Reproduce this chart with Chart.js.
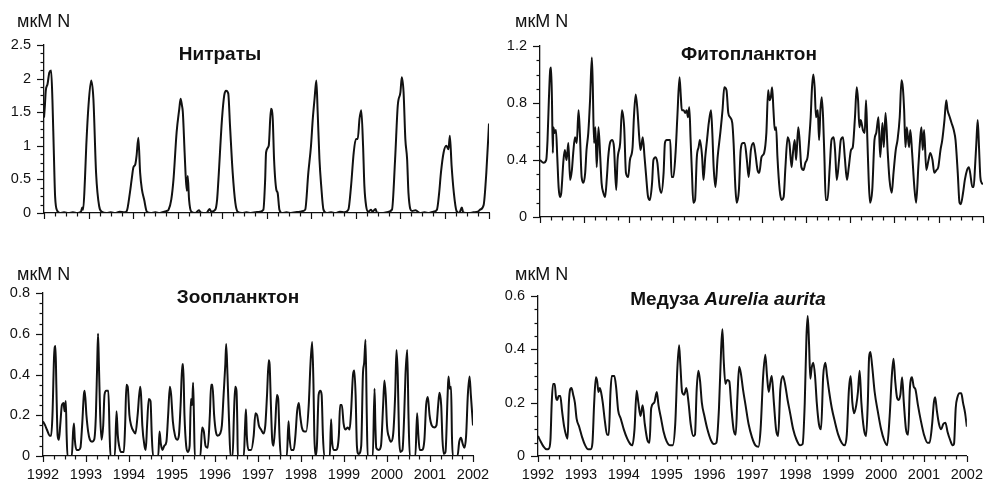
<!DOCTYPE html>
<html><head><meta charset="utf-8">
<script src="https://cdn.jsdelivr.net/npm/chart.js@4.4.0/dist/chart.umd.min.js"></script>
<style>
html,body{margin:0;padding:0;background:#fff;}
#wrap{position:relative;width:987px;height:481px;overflow:hidden;font-family:"Liberation Sans",Arial,sans-serif;color:#111;}
canvas{position:absolute;left:0;top:0;}
.unit{position:absolute;font-size:18px;line-height:18px;white-space:nowrap;}
.ttl{position:absolute;font-size:19px;line-height:19px;font-weight:bold;white-space:nowrap;transform:translateX(-50%);}
</style></head>
<body><div id="wrap">
<canvas id="c1" width="987" height="481"></canvas>
<canvas id="c2" width="987" height="481"></canvas>
<canvas id="c3" width="987" height="481"></canvas>
<canvas id="c4" width="987" height="481"></canvas>
<div class="unit" style="left:17px;top:12px">мкМ N</div>
<div class="unit" style="left:515px;top:12px">мкМ N</div>
<div class="unit" style="left:17px;top:265px">мкМ N</div>
<div class="unit" style="left:515px;top:265px">мкМ N</div>
<div class="ttl" style="left:220px;top:44px">Нитраты</div>
<div class="ttl" style="left:749px;top:44px">Фитопланктон</div>
<div class="ttl" style="left:238px;top:287px">Зоопланктон</div>
<div class="ttl" style="left:728px;top:289px">Медуза <i>Aurelia aurita</i></div>
</div>
<script>
// ---- Data ----
const years = [1992,1993,1994,1995,1996,1997,1998,1999,2000,2001,2002];
const nitrateTicks = [0,0.5,1,1.5,2,2.5];
const phytoTicks = [0,0.4,0.8,1.2];
const zooTicks = [0,0.2,0.4,0.6,0.8];
const aureliaTicks = [0,0.2,0.4,0.6];

const nitrates = [[1992.00,1.42],[1992.02,1.60],[1992.04,1.82],[1992.08,1.92],[1992.12,2.09],[1992.16,2.12],[1992.19,1.67],[1992.22,0.93],[1992.25,0.24],[1992.30,0.03],[1992.36,0.0],[1992.45,0.01],[1992.55,0.0],[1992.65,0.01],[1992.75,0.0],[1992.83,0.02],[1992.86,0.08],[1992.88,0.05],[1992.92,0.5],[1992.95,1.0],[1993.00,1.6],[1993.06,1.97],[1993.11,1.7],[1993.17,0.6],[1993.24,0.1],[1993.30,0.02],[1993.40,0.0],[1993.50,0.01],[1993.60,0.0],[1993.70,0.02],[1993.80,0.01],[1993.86,0.03],[1993.93,0.3],[1993.97,0.5],[1994.01,0.68],[1994.05,0.72],[1994.08,0.85],[1994.12,1.12],[1994.16,0.6],[1994.20,0.35],[1994.25,0.2],[1994.31,0.02],[1994.40,0.0],[1994.50,0.01],[1994.60,0.0],[1994.70,0.02],[1994.76,0.03],[1994.80,0.05],[1994.86,0.2],[1994.91,0.5],[1994.98,1.2],[1995.04,1.55],[1995.07,1.7],[1995.10,1.6],[1995.12,1.5],[1995.16,0.9],[1995.18,0.6],[1995.21,0.33],[1995.23,0.55],[1995.26,0.2],[1995.31,0.02],[1995.40,0.0],[1995.48,0.04],[1995.52,0.01],[1995.65,0.0],[1995.72,0.06],[1995.76,0.02],[1995.85,0.05],[1995.89,0.2],[1995.92,0.5],[1996.00,1.4],[1996.05,1.75],[1996.09,1.82],[1996.14,1.78],[1996.18,1.3],[1996.24,0.6],[1996.30,0.15],[1996.35,0.02],[1996.45,0.0],[1996.55,0.01],[1996.65,0.0],[1996.75,0.01],[1996.85,0.02],[1996.93,0.05],[1996.97,0.5],[1996.99,0.9],[1997.05,1.0],[1997.10,1.55],[1997.14,1.4],[1997.17,0.8],[1997.22,0.35],[1997.25,0.3],[1997.29,0.05],[1997.35,0.0],[1997.45,0.01],[1997.55,0.0],[1997.65,0.01],[1997.75,0.02],[1997.82,0.03],[1997.87,0.05],[1997.94,0.6],[1998.00,1.0],[1998.04,1.4],[1998.08,1.7],[1998.12,1.97],[1998.15,1.5],[1998.19,0.8],[1998.23,0.4],[1998.28,0.05],[1998.35,0.0],[1998.45,0.01],[1998.55,0.0],[1998.65,0.02],[1998.75,0.01],[1998.84,0.05],[1998.90,0.4],[1998.96,0.9],[1999.01,1.1],[1999.05,1.1],[1999.09,1.4],[1999.13,1.53],[1999.17,1.0],[1999.20,0.4],[1999.24,0.1],[1999.29,0.02],[1999.35,0.05],[1999.38,0.02],[1999.45,0.06],[1999.48,0.01],[1999.60,0.0],[1999.70,0.01],[1999.82,0.05],[1999.89,0.8],[1999.95,1.6],[2000.01,1.8],[2000.04,2.02],[2000.08,1.8],[2000.12,1.1],[2000.16,0.8],[2000.19,0.3],[2000.27,0.03],[2000.35,0.04],[2000.45,0.0],[2000.55,0.01],[2000.65,0.0],[2000.75,0.02],[2000.83,0.05],[2000.88,0.3],[2000.92,0.6],[2000.98,0.9],[2001.04,1.0],[2001.09,0.95],[2001.12,1.15],[2001.16,0.7],[2001.21,0.3],[2001.27,0.03],[2001.33,0.0],[2001.39,0.08],[2001.42,0.01],[2001.55,0.0],[2001.65,0.01],[2001.75,0.02],[2001.80,0.05],[2001.88,0.12],[2001.94,0.6],[2002.00,1.33]];

const phytoplankton = [[1992.00,0.40],[1992.08,0.38],[1992.14,0.40],[1992.17,0.54],[1992.20,0.82],[1992.23,1.03],[1992.25,1.05],[1992.27,0.82],[1992.29,0.45],[1992.30,0.63],[1992.33,0.59],[1992.36,0.61],[1992.39,0.42],[1992.42,0.21],[1992.45,0.14],[1992.48,0.17],[1992.53,0.40],[1992.56,0.47],[1992.60,0.40],[1992.64,0.52],[1992.68,0.26],[1992.72,0.33],[1992.75,0.45],[1992.79,0.56],[1992.83,0.52],[1992.87,0.75],[1992.90,0.59],[1992.94,0.28],[1992.98,0.24],[1993.02,0.31],[1993.05,0.47],[1993.09,0.59],[1993.13,0.82],[1993.17,1.12],[1993.19,0.94],[1993.22,0.52],[1993.25,0.63],[1993.28,0.35],[1993.32,0.63],[1993.36,0.42],[1993.39,0.24],[1993.43,0.17],[1993.47,0.14],[1993.51,0.28],[1993.54,0.42],[1993.58,0.52],[1993.63,0.54],[1993.67,0.49],[1993.72,0.19],[1993.75,0.40],[1993.81,0.52],[1993.85,0.75],[1993.90,0.63],[1993.94,0.31],[1993.99,0.28],[1994.03,0.40],[1994.09,0.49],[1994.12,0.70],[1994.16,0.86],[1994.20,0.75],[1994.24,0.56],[1994.27,0.47],[1994.32,0.56],[1994.36,0.42],[1994.39,0.31],[1994.44,0.14],[1994.48,0.12],[1994.53,0.24],[1994.56,0.40],[1994.61,0.42],[1994.65,0.38],[1994.70,0.21],[1994.74,0.17],[1994.79,0.31],[1994.82,0.52],[1994.86,0.54],[1994.90,0.54],[1994.94,0.54],[1994.97,0.28],[1995.01,0.28],[1995.06,0.45],[1995.10,0.70],[1995.15,0.98],[1995.18,0.84],[1995.20,0.75],[1995.24,0.75],[1995.28,0.73],[1995.31,0.75],[1995.34,0.70],[1995.37,0.77],[1995.40,0.54],[1995.43,0.31],[1995.46,0.10],[1995.50,0.12],[1995.54,0.42],[1995.58,0.49],[1995.61,0.54],[1995.66,0.42],[1995.69,0.26],[1995.73,0.42],[1995.77,0.54],[1995.81,0.66],[1995.86,0.75],[1995.89,0.59],[1995.92,0.35],[1995.96,0.21],[1996.01,0.42],[1996.07,0.59],[1996.12,0.75],[1996.16,0.91],[1996.21,0.89],[1996.25,0.73],[1996.29,0.70],[1996.34,0.66],[1996.37,0.52],[1996.41,0.21],[1996.44,0.10],[1996.49,0.19],[1996.53,0.47],[1996.58,0.52],[1996.62,0.52],[1996.67,0.40],[1996.71,0.28],[1996.76,0.47],[1996.82,0.52],[1996.86,0.45],[1996.91,0.33],[1996.95,0.31],[1997.00,0.42],[1997.06,0.45],[1997.11,0.59],[1997.15,0.89],[1997.18,0.82],[1997.21,0.84],[1997.24,0.91],[1997.27,0.75],[1997.30,0.61],[1997.33,0.63],[1997.36,0.42],[1997.41,0.19],[1997.45,0.12],[1997.50,0.14],[1997.54,0.35],[1997.59,0.56],[1997.63,0.52],[1997.68,0.35],[1997.71,0.45],[1997.75,0.54],[1997.78,0.40],[1997.83,0.63],[1997.86,0.54],[1997.90,0.35],[1997.95,0.33],[1997.99,0.38],[1998.04,0.42],[1998.08,0.56],[1998.11,0.70],[1998.14,0.91],[1998.17,1.00],[1998.20,0.91],[1998.23,0.70],[1998.27,0.75],[1998.30,0.54],[1998.33,0.75],[1998.36,0.84],[1998.39,0.70],[1998.42,0.42],[1998.45,0.12],[1998.49,0.12],[1998.54,0.35],[1998.58,0.54],[1998.63,0.56],[1998.66,0.47],[1998.70,0.26],[1998.75,0.40],[1998.79,0.54],[1998.84,0.56],[1998.88,0.42],[1998.93,0.26],[1998.97,0.35],[1999.02,0.47],[1999.06,0.49],[1999.11,0.70],[1999.15,0.91],[1999.18,0.82],[1999.21,0.63],[1999.24,0.68],[1999.29,0.61],[1999.33,0.59],[1999.36,0.82],[1999.39,0.54],[1999.42,0.26],[1999.45,0.10],[1999.50,0.19],[1999.55,0.54],[1999.59,0.59],[1999.64,0.70],[1999.68,0.42],[1999.73,0.66],[1999.76,0.49],[1999.80,0.73],[1999.85,0.45],[1999.89,0.26],[1999.94,0.17],[1999.98,0.31],[2000.03,0.47],[2000.07,0.54],[2000.12,0.70],[2000.16,0.96],[2000.19,0.91],[2000.22,0.75],[2000.25,0.49],[2000.28,0.63],[2000.33,0.49],[2000.36,0.61],[2000.40,0.45],[2000.45,0.21],[2000.49,0.10],[2000.54,0.35],[2000.58,0.54],[2000.61,0.63],[2000.64,0.47],[2000.67,0.61],[2000.72,0.33],[2000.77,0.40],[2000.81,0.45],[2000.86,0.40],[2000.90,0.31],[2000.95,0.33],[2000.99,0.35],[2001.04,0.47],[2001.08,0.54],[2001.13,0.68],[2001.17,0.82],[2001.20,0.75],[2001.25,0.70],[2001.29,0.66],[2001.34,0.61],[2001.38,0.54],[2001.43,0.31],[2001.47,0.10],[2001.50,0.09],[2001.55,0.17],[2001.59,0.26],[2001.64,0.33],[2001.68,0.35],[2001.71,0.31],[2001.76,0.21],[2001.79,0.21],[2001.82,0.35],[2001.85,0.52],[2001.88,0.68],[2001.91,0.49],[2001.94,0.28],[2001.97,0.24],[2002.00,0.23]];

const zooplankton = [[1992.00,0.17],[1992.05,0.15],[1992.09,0.13],[1992.16,0.10],[1992.19,0.10],[1992.22,0.2],[1992.26,0.5],[1992.29,0.54],[1992.31,0.35],[1992.34,0.1],[1992.37,0.08],[1992.40,0.15],[1992.44,0.25],[1992.48,0.26],[1992.50,0.22],[1992.53,0.27],[1992.55,0.1],[1992.57,0.0],[1992.67,0.0],[1992.70,0.12],[1992.72,0.16],[1992.74,0.08],[1992.78,0.03],[1992.83,0.03],[1992.87,0.04],[1992.91,0.15],[1992.95,0.3],[1992.97,0.32],[1993.01,0.2],[1993.05,0.12],[1993.09,0.08],[1993.14,0.07],[1993.19,0.08],[1993.23,0.2],[1993.26,0.45],[1993.28,0.6],[1993.30,0.45],[1993.33,0.2],[1993.36,0.08],[1993.40,0.15],[1993.43,0.3],[1993.47,0.32],[1993.52,0.32],[1993.55,0.1],[1993.57,0.0],[1993.67,0.0],[1993.71,0.22],[1993.74,0.1],[1993.77,0.05],[1993.81,0.02],[1993.88,0.02],[1993.91,0.15],[1993.94,0.35],[1993.97,0.34],[1994.01,0.2],[1994.05,0.15],[1994.11,0.12],[1994.15,0.11],[1994.20,0.2],[1994.26,0.34],[1994.28,0.3],[1994.31,0.15],[1994.36,0.05],[1994.39,0.03],[1994.42,0.15],[1994.46,0.28],[1994.50,0.27],[1994.53,0.1],[1994.56,0.0],[1994.68,0.0],[1994.71,0.12],[1994.74,0.06],[1994.78,0.03],[1994.82,0.05],[1994.87,0.07],[1994.91,0.2],[1994.95,0.34],[1994.98,0.3],[1995.02,0.17],[1995.07,0.1],[1995.12,0.08],[1995.16,0.1],[1995.20,0.25],[1995.24,0.45],[1995.26,0.45],[1995.29,0.2],[1995.33,0.05],[1995.37,0.02],[1995.41,0.05],[1995.44,0.28],[1995.47,0.25],[1995.49,0.36],[1995.51,0.2],[1995.53,0.0],[1995.66,0.0],[1995.70,0.14],[1995.74,0.12],[1995.78,0.05],[1995.83,0.04],[1995.88,0.2],[1995.91,0.35],[1995.94,0.35],[1995.98,0.2],[1996.02,0.12],[1996.06,0.1],[1996.12,0.11],[1996.16,0.15],[1996.20,0.3],[1996.24,0.45],[1996.26,0.55],[1996.29,0.4],[1996.33,0.15],[1996.36,0.0],[1996.41,0.0],[1996.44,0.2],[1996.47,0.34],[1996.50,0.32],[1996.52,0.15],[1996.53,0.0],[1996.67,0.0],[1996.70,0.15],[1996.72,0.23],[1996.74,0.1],[1996.78,0.03],[1996.84,0.03],[1996.90,0.1],[1996.94,0.21],[1996.98,0.2],[1997.02,0.15],[1997.07,0.13],[1997.13,0.11],[1997.17,0.15],[1997.21,0.3],[1997.25,0.47],[1997.27,0.45],[1997.30,0.25],[1997.33,0.08],[1997.36,0.05],[1997.40,0.15],[1997.44,0.3],[1997.47,0.28],[1997.50,0.1],[1997.53,0.0],[1997.67,0.0],[1997.71,0.17],[1997.73,0.1],[1997.77,0.03],[1997.83,0.03],[1997.87,0.1],[1997.91,0.22],[1997.95,0.26],[1997.98,0.2],[1998.02,0.14],[1998.08,0.12],[1998.12,0.12],[1998.18,0.25],[1998.22,0.45],[1998.26,0.56],[1998.29,0.35],[1998.31,0.1],[1998.34,0.0],[1998.37,0.05],[1998.41,0.3],[1998.45,0.32],[1998.48,0.3],[1998.51,0.1],[1998.54,0.0],[1998.67,0.0],[1998.70,0.18],[1998.72,0.08],[1998.76,0.03],[1998.82,0.03],[1998.88,0.1],[1998.91,0.25],[1998.95,0.25],[1998.99,0.16],[1999.03,0.13],[1999.09,0.14],[1999.13,0.13],[1999.16,0.2],[1999.21,0.4],[1999.24,0.42],[1999.27,0.3],[1999.30,0.05],[1999.34,0.01],[1999.40,0.05],[1999.44,0.4],[1999.47,0.46],[1999.50,0.57],[1999.53,0.2],[1999.55,0.0],[1999.67,0.0],[1999.71,0.33],[1999.73,0.15],[1999.75,0.04],[1999.81,0.03],[1999.86,0.05],[1999.91,0.25],[1999.94,0.37],[1999.97,0.3],[2000.00,0.15],[2000.05,0.09],[2000.09,0.07],[2000.14,0.1],[2000.19,0.3],[2000.22,0.52],[2000.25,0.4],[2000.28,0.1],[2000.31,0.02],[2000.36,0.03],[2000.40,0.2],[2000.43,0.4],[2000.47,0.52],[2000.50,0.2],[2000.53,0.0],[2000.66,0.0],[2000.70,0.21],[2000.73,0.1],[2000.76,0.03],[2000.81,0.03],[2000.87,0.08],[2000.91,0.25],[2000.95,0.29],[2000.99,0.2],[2001.04,0.15],[2001.10,0.14],[2001.15,0.15],[2001.19,0.25],[2001.22,0.31],[2001.26,0.25],[2001.29,0.08],[2001.32,0.01],[2001.36,0.02],[2001.41,0.3],[2001.43,0.39],[2001.46,0.33],[2001.49,0.34],[2001.51,0.1],[2001.53,0.0],[2001.64,0.0],[2001.68,0.07],[2001.72,0.09],[2001.76,0.06],[2001.80,0.04],[2001.84,0.1],[2001.88,0.3],[2001.92,0.39],[2001.95,0.3],[2002.00,0.15]];

const aurelia = [[1992.00,0.075],[1992.06,0.055],[1992.13,0.035],[1992.20,0.025],[1992.25,0.027],[1992.29,0.06],[1992.32,0.2],[1992.35,0.27],[1992.39,0.27],[1992.42,0.22],[1992.45,0.21],[1992.48,0.225],[1992.52,0.225],[1992.56,0.17],[1992.61,0.11],[1992.66,0.075],[1992.69,0.065],[1992.72,0.2],[1992.75,0.25],[1992.78,0.255],[1992.82,0.23],[1992.86,0.2],[1992.90,0.14],[1992.96,0.11],[1993.03,0.07],[1993.10,0.04],[1993.17,0.025],[1993.23,0.025],[1993.27,0.05],[1993.31,0.2],[1993.35,0.295],[1993.38,0.28],[1993.41,0.24],[1993.44,0.255],[1993.47,0.24],[1993.51,0.2],[1993.56,0.13],[1993.61,0.08],[1993.65,0.08],[1993.69,0.24],[1993.72,0.3],[1993.78,0.3],[1993.82,0.26],[1993.87,0.17],[1993.93,0.14],[1994.00,0.10],[1994.08,0.065],[1994.15,0.045],[1994.20,0.04],[1994.25,0.1],[1994.30,0.245],[1994.34,0.2],[1994.39,0.15],[1994.44,0.19],[1994.49,0.12],[1994.55,0.06],[1994.60,0.05],[1994.64,0.18],[1994.71,0.2],[1994.77,0.24],[1994.81,0.19],[1994.87,0.14],[1994.93,0.09],[1995.00,0.055],[1995.08,0.04],[1995.14,0.04],[1995.20,0.12],[1995.25,0.33],[1995.29,0.415],[1995.32,0.34],[1995.36,0.24],[1995.41,0.23],[1995.46,0.255],[1995.51,0.2],[1995.56,0.12],[1995.62,0.075],[1995.66,0.08],[1995.70,0.25],[1995.74,0.32],[1995.78,0.28],[1995.82,0.2],[1995.88,0.15],[1995.95,0.10],[1996.03,0.06],[1996.10,0.045],[1996.16,0.05],[1996.22,0.18],[1996.27,0.4],[1996.30,0.475],[1996.33,0.36],[1996.37,0.27],[1996.41,0.285],[1996.46,0.28],[1996.51,0.18],[1996.56,0.1],[1996.61,0.08],[1996.65,0.22],[1996.69,0.335],[1996.73,0.31],[1996.78,0.25],[1996.84,0.19],[1996.91,0.12],[1996.99,0.07],[1997.07,0.04],[1997.14,0.035],[1997.19,0.1],[1997.25,0.3],[1997.30,0.38],[1997.34,0.3],[1997.38,0.24],[1997.42,0.28],[1997.45,0.3],[1997.50,0.2],[1997.55,0.1],[1997.60,0.075],[1997.65,0.25],[1997.71,0.3],[1997.76,0.27],[1997.82,0.21],[1997.88,0.16],[1997.95,0.1],[1998.03,0.06],[1998.11,0.04],[1998.17,0.045],[1998.22,0.2],[1998.26,0.45],[1998.29,0.525],[1998.32,0.42],[1998.35,0.29],[1998.38,0.33],[1998.42,0.35],[1998.46,0.3],[1998.50,0.2],[1998.55,0.12],[1998.60,0.1],[1998.65,0.3],[1998.70,0.35],[1998.74,0.3],[1998.79,0.24],[1998.85,0.18],[1998.92,0.13],[1999.00,0.08],[1999.08,0.05],[1999.15,0.04],[1999.20,0.08],[1999.25,0.25],[1999.29,0.3],[1999.33,0.2],[1999.37,0.16],[1999.42,0.19],[1999.46,0.24],[1999.50,0.32],[1999.54,0.2],[1999.60,0.1],[1999.65,0.075],[1999.69,0.2],[1999.72,0.37],[1999.75,0.39],[1999.79,0.34],[1999.85,0.24],[1999.92,0.17],[2000.00,0.1],[2000.07,0.06],[2000.14,0.04],[2000.20,0.15],[2000.25,0.3],[2000.29,0.365],[2000.33,0.28],[2000.37,0.22],[2000.41,0.21],[2000.45,0.23],[2000.49,0.295],[2000.53,0.2],[2000.58,0.1],[2000.63,0.08],[2000.67,0.25],[2000.72,0.295],[2000.76,0.26],[2000.80,0.25],[2000.86,0.19],[2000.93,0.13],[2001.00,0.08],[2001.08,0.05],[2001.13,0.05],[2001.19,0.12],[2001.23,0.2],[2001.26,0.22],[2001.30,0.17],[2001.35,0.12],[2001.40,0.1],[2001.45,0.12],[2001.50,0.125],[2001.55,0.09],[2001.61,0.06],[2001.67,0.04],[2001.70,0.045],[2001.74,0.18],[2001.78,0.22],[2001.83,0.235],[2001.87,0.235],[2001.91,0.2],[2001.96,0.16],[2002.00,0.11]];

// ---- Drawing ----
const INK = '#111';
const FONT = '"Liberation Sans", Arial, sans-serif';

const tickMarks = {
  id: 'tickMarks',
  afterDraw(chart) {
    const ctx = chart.ctx, a = chart.chartArea;
    const xs = chart.scales.x, ys = chart.scales.y;
    ctx.save();
    ctx.strokeStyle = INK;
    ctx.lineWidth = 1.2;
    xs.ticks.forEach(t => {
      const px = Math.round(xs.getPixelForValue(t.value)) + 0.5;
      const major = Math.abs(t.value - Math.round(t.value)) < 1e-6;
      ctx.beginPath(); ctx.moveTo(px, a.bottom); ctx.lineTo(px, a.bottom + (major ? 6 : 3.5)); ctx.stroke();
    });
    ys.ticks.forEach(t => {
      const py = Math.round(ys.getPixelForValue(t.value)) + 0.5;
      const major = t.label !== '';
      ctx.beginPath(); ctx.moveTo(a.left, py); ctx.lineTo(a.left - (major ? 7 : 3.5), py); ctx.stroke();
    });
    ctx.restore();
  }
};

function makePanel(id, series, yLabels, ySub, area, showX) {
  const Y_W = 40, X_H = showX ? 28 : 10;
  const yMax = yLabels[yLabels.length - 1];
  const yStep = (yLabels[1] - yLabels[0]) / ySub;
  const xMin = years[0], xMax = years[years.length - 1];
  return new Chart(document.getElementById(id), {
    type: 'line',
    data: { datasets: [{
      data: series.map(p => ({ x: p[0], y: p[1] })),
      borderColor: INK, borderWidth: 2, pointRadius: 0,
      cubicInterpolationMode: 'monotone', fill: false
    }]},
    options: {
      responsive: false, animation: false, devicePixelRatio: 1,
      layout: { padding: { left: area.left - Y_W, top: area.top, right: 987 - area.right, bottom: 481 - area.bottom - X_H } },
      plugins: { legend: { display: false }, tooltip: { enabled: false } },
      scales: {
        x: {
          type: 'linear', min: xMin, max: xMax,
          afterBuildTicks: s => {
            const t = [];
            const n = (xMax - xMin) * 4;
            for (let i = 0; i <= n; i++) t.push({ value: xMin + i * 0.25 });
            s.ticks = t;
          },
          afterFit: s => { s.height = X_H; },
          grid: { display: true, drawOnChartArea: false, drawTicks: true, tickLength: 6, tickColor: 'rgba(0,0,0,0)' },
          border: { display: true, color: INK, width: 1.3 },
          ticks: {
            display: showX, autoSkip: false, maxRotation: 0, padding: 4,
            color: INK, font: { family: FONT, size: 14.5 },
            callback: v => years.includes(v) ? String(v) : ''
          }
        },
        y: {
          type: 'linear', min: 0, max: yMax,
          afterBuildTicks: s => {
            const t = [];
            const n = Math.round(yMax / yStep);
            for (let i = 0; i <= n; i++) t.push({ value: +(i * yStep).toFixed(5) });
            s.ticks = t;
          },
          afterFit: s => { s.width = Y_W; },
          grid: { display: true, drawOnChartArea: false, drawTicks: true, tickLength: 6, tickColor: 'rgba(0,0,0,0)' },
          border: { display: true, color: INK, width: 1.3 },
          ticks: {
            autoSkip: false, padding: 7,
            color: INK, font: { family: FONT, size: 14.5 },
            callback: v => yLabels.some(l => Math.abs(l - v) < 1e-6) ? String(+v.toFixed(3)) : ''
          }
        }
      }
    },
    plugins: [tickMarks]
  });
}

makePanel('c1', nitrates, nitrateTicks, 4, { left: 44, top: 45, right: 489, bottom: 213 }, false);
makePanel('c2', phytoplankton, phytoTicks, 4, { left: 540, top: 46, right: 983, bottom: 217 }, false);
makePanel('c3', zooplankton, zooTicks, 4, { left: 43, top: 293, right: 473, bottom: 456 }, true);
makePanel('c4', aurelia, aureliaTicks, 4, { left: 538, top: 296, right: 968, bottom: 456 }, true);
</script>
</body></html>
